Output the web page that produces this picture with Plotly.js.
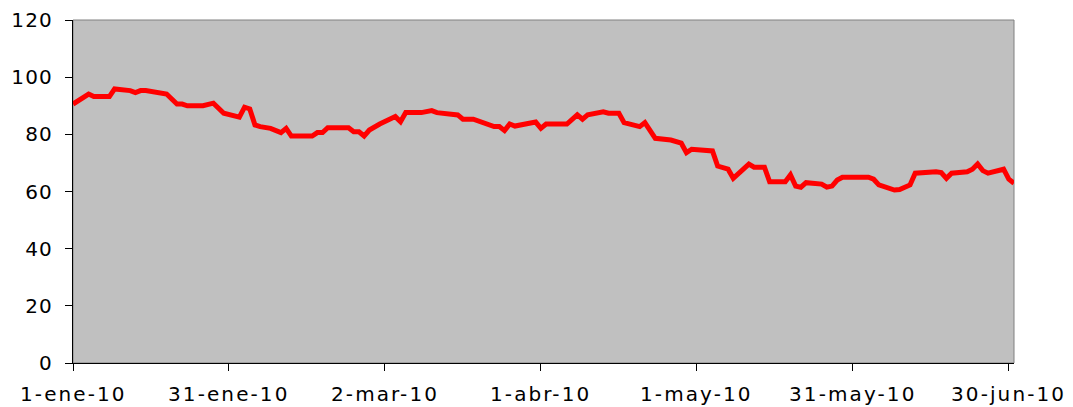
<!DOCTYPE html>
<html>
<head>
<meta charset="utf-8">
<script src="https://cdn.plot.ly/plotly-3.0.1.min.js"></script>
<style>
  html, body { margin: 0; padding: 0; background: #fff; }
  #chart { width: 1073px; height: 407px; }
  .annotation-text { letter-spacing: 2.1px; }
  .ytick text { letter-spacing: 1.2px; }
</style>
</head>
<body>
<div id="chart"></div>
<script>
// Dates of line vertices
const dates = [
  '2010-01-01','2010-01-04','2010-01-05','2010-01-08','2010-01-09','2010-01-12','2010-01-13','2010-01-14',
  '2010-01-15','2010-01-18','2010-01-19','2010-01-21','2010-01-22','2010-01-23','2010-01-26','2010-01-28',
  '2010-01-30','2010-02-02','2010-02-03','2010-02-04','2010-02-05','2010-02-06','2010-02-08','2010-02-10',
  '2010-02-11','2010-02-12','2010-02-16','2010-02-17','2010-02-18','2010-02-19','2010-02-23','2010-02-24',
  '2010-02-25','2010-02-26','2010-02-27','2010-03-01','2010-03-04','2010-03-05','2010-03-06','2010-03-09',
  '2010-03-11','2010-03-12','2010-03-16','2010-03-17','2010-03-19','2010-03-23','2010-03-24','2010-03-25',
  '2010-03-26','2010-03-27','2010-03-29','2010-03-31','2010-04-01','2010-04-02','2010-04-06','2010-04-08',
  '2010-04-09','2010-04-10','2010-04-13','2010-04-14','2010-04-16','2010-04-17','2010-04-20','2010-04-21',
  '2010-04-23','2010-04-26','2010-04-28','2010-04-29','2010-04-30','2010-05-04','2010-05-05','2010-05-07',
  '2010-05-08','2010-05-11','2010-05-12','2010-05-14','2010-05-15','2010-05-18','2010-05-19','2010-05-20',
  '2010-05-21','2010-05-22','2010-05-25','2010-05-26','2010-05-27','2010-05-28','2010-05-29','2010-06-03',
  '2010-06-04','2010-06-05','2010-06-08','2010-06-09','2010-06-11','2010-06-12','2010-06-16','2010-06-17',
  '2010-06-18','2010-06-19','2010-06-22','2010-06-23','2010-06-24','2010-06-25','2010-06-26','2010-06-29',
  '2010-06-30','2010-07-01'
];
const values = [
  90.6, 94.1, 93.2, 93.2, 95.9, 95.3, 94.6, 95.3,
  95.3, 94.6, 94.1, 90.6, 90.6, 90.0, 90.0, 90.9,
  87.4, 86.0, 89.5, 88.9, 83.3, 82.7, 82.1, 80.6,
  82.1, 79.4, 79.4, 80.6, 80.6, 82.3, 82.3, 80.9,
  80.9, 79.4, 81.5, 83.6, 86.2, 84.4, 87.6, 87.6,
  88.3, 87.6, 86.8, 85.3, 85.3, 82.7, 82.7, 81.3,
  83.6, 82.9, 83.6, 84.3, 82.1, 83.6, 83.6, 86.8,
  85.3, 86.8, 87.9, 87.4, 87.4, 84.1, 82.7, 84.1,
  78.6, 78.0, 76.9, 73.6, 74.8, 74.2, 68.9, 67.8,
  64.6, 69.6, 68.5, 68.5, 63.4, 63.4, 65.8, 61.9,
  61.5, 63.1, 62.6, 61.5, 61.9, 64.0, 65.0, 65.0,
  64.3, 62.3, 60.5, 60.7, 62.3, 66.4, 66.9, 66.6,
  64.6, 66.4, 66.9, 67.8, 69.6, 67.3, 66.4, 67.8,
  64.3, 62.9
];
// Axis ticks
const xTickVals = ['2010-01-01','2010-01-31','2010-03-02','2010-04-01','2010-05-01','2010-05-31','2010-06-30'];
const xTickText = ['1-ene-10','31-ene-10','2-mar-10','1-abr-10','1-may-10','31-may-10','30-jun-10'];
const yTickVals = [0, 20, 40, 60, 80, 100, 120];

const trace = {
  x: dates,
  y: values,
  type: 'scatter',
  mode: 'lines',
  line: { color: '#FF0000', width: 5, shape: 'linear' },
  hoverinfo: 'skip'
};

const tickFont = { family: 'DejaVu Sans, Verdana, sans-serif', size: 20, color: '#000000' };

// x tick labels as annotations positioned through the x axis scale
const xLabelAnnotations = xTickVals.map((v, i) => ({
  x: v, xref: 'x',
  y: 0, yref: 'paper',
  text: xTickText[i],
  showarrow: false,
  xanchor: 'center', yanchor: 'top',
  yshift: -18,
  borderpad: 0,
  font: tickFont
}));

const layout = {
  width: 1073,
  height: 407,
  margin: { l: 73, r: 59, t: 20, b: 44 },
  paper_bgcolor: '#FFFFFF',
  plot_bgcolor: '#C0C0C0',
  showlegend: false,
  font: tickFont,
  xaxis: {
    type: 'date',
    range: ['2010-01-01', '2010-07-01'],
    tickmode: 'array',
    tickvals: xTickVals,
    showticklabels: false,
    showgrid: false,
    zeroline: false,
    showline: true,
    linecolor: '#000000',
    linewidth: 1,
    ticks: 'outside',
    ticklen: 7,
    tickcolor: '#000000',
    fixedrange: true
  },
  yaxis: {
    range: [0, 120],
    tickmode: 'array',
    tickvals: yTickVals,
    showgrid: false,
    zeroline: false,
    showline: true,
    linecolor: '#000000',
    linewidth: 1,
    ticks: 'outside',
    ticklen: 7,
    tickcolor: '#000000',
    tickfont: tickFont,
    ticklabelstandoff: 8,
    fixedrange: true
  },
  annotations: xLabelAnnotations,
  shapes: [{
    type: 'rect', xref: 'paper', yref: 'paper',
    x0: 0, x1: 1, y0: 0, y1: 1,
    line: { color: '#808080', width: 1 },
    fillcolor: 'rgba(0,0,0,0)',
    layer: 'below'
  }]
};

Plotly.newPlot('chart', [trace], layout, { staticPlot: true, displayModeBar: false });
</script>
</body>
</html>
